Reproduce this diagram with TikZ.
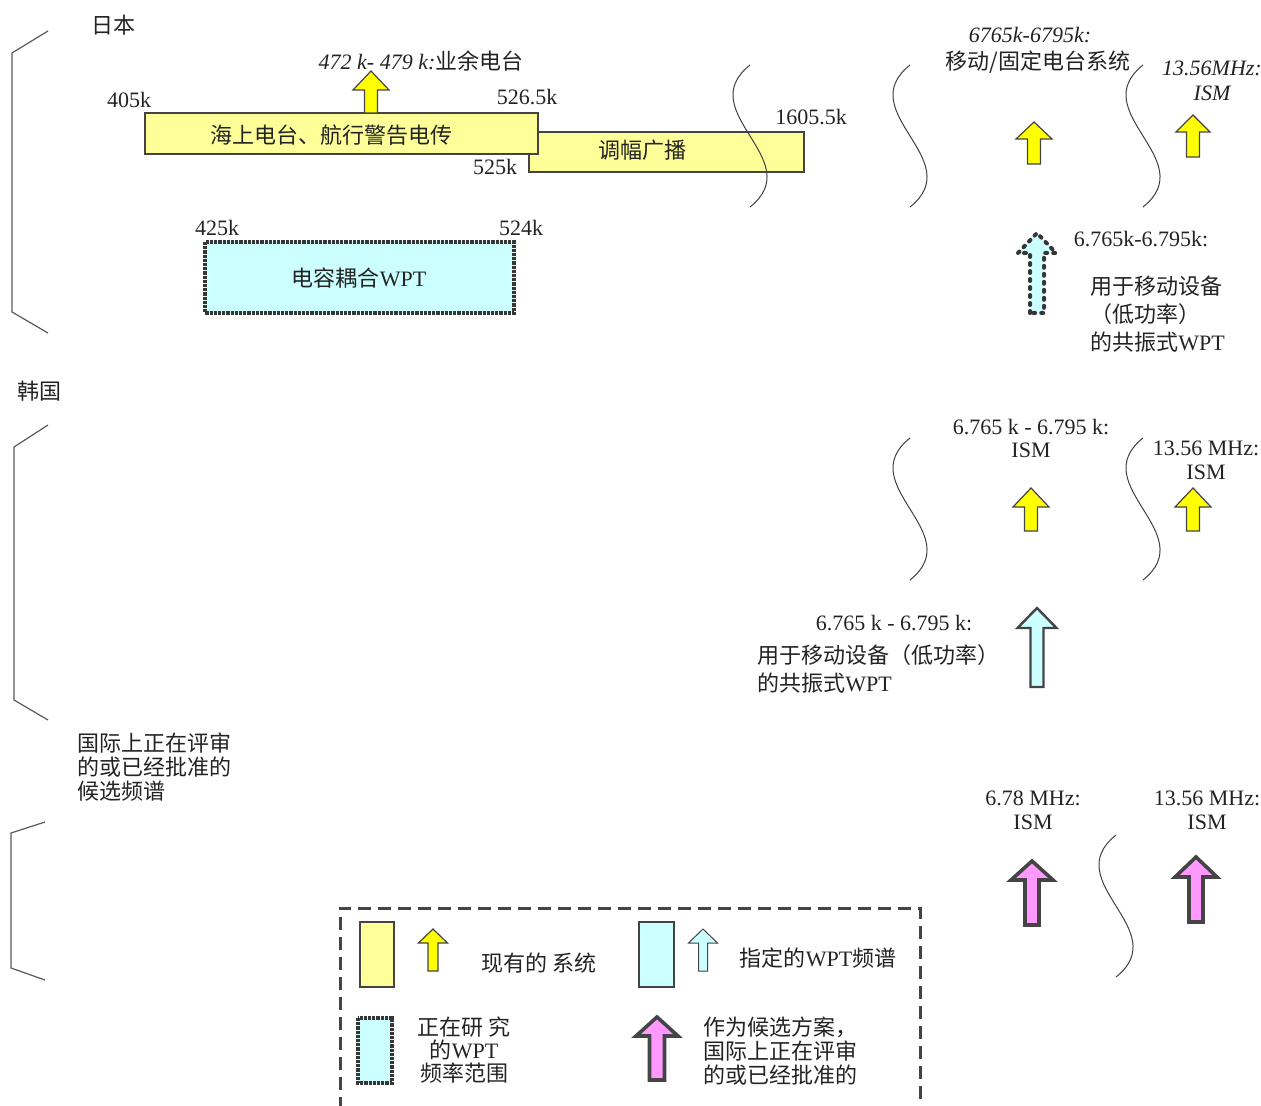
\documentclass[tikz,border=0pt]{standalone}
\usepackage{fontspec}
\setmainfont{Liberation Serif}
\newfontfamily\cjk{Noto Sans CJK SC}
\usetikzlibrary{positioning}
\definecolor{bandyellow}{RGB}{255,255,153}
\definecolor{arrowyellow}{RGB}{255,255,0}
\definecolor{wptcyan}{RGB}{204,255,255}
\definecolor{candpink}{RGB}{255,153,255}
\definecolor{edgegray}{RGB}{68,68,68}
\definecolor{txtgray}{RGB}{35,35,35}
\tikzset{
    lbl/.style={inner sep=0pt, text=txtgray, font=\fontsize{11}{13}\selectfont},
    zh/.style={lbl, font=\fontsize{11}{13}\selectfont\cjk},
    band/.style={draw=edgegray, line width=1pt, fill=bandyellow},
    studyband/.style={draw=edgegray!80!black, line width=1.6pt, dash pattern=on 1.6pt off 0.5pt, fill=wptcyan},
    existarrow/.style={draw=edgegray, line width=0.6pt, fill=arrowyellow},
    wptarrow/.style={draw=edgegray, line width=1.2pt, fill=wptcyan},
    studyarrow/.style={wptarrow, draw=edgegray!80!black, line width=2pt, line cap=round, dash pattern=on 1pt off 3pt},
    candarrow/.style={draw=edgegray, line width=1.8pt, fill=candpink},
    wave/.style={draw=black!75, line width=0.5pt},
    brace/.style={draw=black!65, line width=0.6pt},
    legendframe/.style={draw=edgegray, line width=1.5pt, dash pattern=on 6.5pt off 3.5pt}
}
% fat upward arrow: style, x, tip, head base, bottom, head half width, shaft half width
\newcommand{\freqarrow}[7]{\draw[#1] (#2-#7,#5) -- (#2-#7,#4) -- (#2-#6,#4) -- (#2,#3) -- (#2+#6,#4) -- (#2+#7,#4) -- (#2+#7,#5) -- cycle;}
% break mark on the frequency axis
\newcommand{\breakwave}[2]{\draw[wave] (#1,#2) .. controls (#1-59,#2+47) and (#1+59,#2+95) .. (#1,#2+142);}

\begin{document}
\begin{tikzpicture}[x=0.5pt, y=-0.5pt]
\useasboundingbox (0,0) rectangle (1261,1106);

% Japan
\node[zh] (japan) at (113,25) {日本};
\draw[brace] (48,31) -- (12,53) -- (12,312) -- (48,333);
\draw[band] (529,132) rectangle (804,172);
\node[zh] (amband) at (642,150) {调幅广播};
\draw[band] (145,113) rectangle (538,154);
\node[zh] (maritime) at (331,135) {海上电台、航行警告电传};
\freqarrow{existarrow}{371}{71}{90}{113}{18}{6.5}
\node[lbl] (amateur) at (421,61) {\itshape 472 k- 479 k:{\cjk 业余电台}};
\node[lbl] (f405) at (129,100) {405k};
\node[lbl] (f5265) at (527,97) {526.5k};
\node[lbl] (f525) at (495,167) {525k};
\node[lbl] (f16055) at (811,117) {1605.5k};
\draw[studyband] (205,242) rectangle (514,313);
\node[lbl] (capwpt) at (359,278) {{\cjk 电容耦合}WPT};
\node[lbl] (f425) at (217,228) {425k};
\node[lbl] (f524) at (521,228) {524k};
\breakwave{750}{65}
\breakwave{910}{65}
\breakwave{1143}{65}
\node[lbl] (jpfix) at (1030,35) {\itshape 6765k-6795k:};
\node[zh] (jpfixtxt) at (1038,62) {移动/固定电台系统};
\node[lbl, align=center, font=\fontsize{11}{12.5}\selectfont\itshape] (jpism) at (1212,81) {13.56MHz:\\ISM};
\freqarrow{existarrow}{1034}{122}{139}{164}{18}{6.5}
\freqarrow{existarrow}{1193}{115}{132}{157}{17}{6.5}
\freqarrow{studyarrow}{1037}{233}{253}{313}{19}{7}
\node[lbl] (jpwpt) at (1141,239) {6.765k-6.795k:};
\node[zh, align=left, anchor=west, font=\fontsize{11}{14}\selectfont\cjk] (jpwpttxt) at (1090,314) {用于移动设备\\（低功率）\\的共振式{\rmfamily WPT}};

% Korea
\node[zh] (korea) at (40,391) {韩国};
\draw[brace] (48,425) -- (14,447) -- (14,700) -- (48,720);
\breakwave{910}{438}
\breakwave{1143}{438}
\node[lbl, align=center, font=\fontsize{11}{11.5}\selectfont] (krism) at (1031,438) {6.765 k - 6.795 k:\\ISM};
\node[lbl, align=center, font=\fontsize{11}{12}\selectfont] (krism2) at (1206,460) {13.56 MHz:\\ISM};
\freqarrow{existarrow}{1031}{488}{507}{531}{18}{6.5}
\freqarrow{existarrow}{1193}{488}{507}{531}{18}{6.5}
\freqarrow{wptarrow}{1037}{608}{628}{687}{19.5}{6.5}
\node[lbl] (krwpt) at (894,623) {6.765 k - 6.795 k:};
\node[zh, align=left, anchor=west, font=\fontsize{11}{14}\selectfont\cjk] (krwpttxt) at (757,669) {用于移动设备（低功率）\\的共振式{\rmfamily WPT}};

% international candidates
\node[zh, align=left, anchor=west, font=\fontsize{11}{12.2}\selectfont\cjk] (intl) at (77,767) {国际上正在评审\\的或已经批准的\\候选频谱};
\draw[brace] (45,822) -- (11,833) -- (11,968) -- (45,980);
\node[lbl, align=center, font=\fontsize{11}{12}\selectfont] (intlism) at (1033,810) {6.78 MHz:\\ISM};
\node[lbl, align=center, font=\fontsize{11}{12}\selectfont] (intlism2) at (1207,810) {13.56 MHz:\\ISM};
\freqarrow{candarrow}{1032}{861}{880}{925}{21}{7}
\freqarrow{candarrow}{1196}{857}{877}{922}{21}{7}
\breakwave{1116}{835}

% legend
\draw[legendframe] (340,1110) -- (340,908) -- (920,908) -- (920,1110);
\draw[band, line width=0.6pt] (360,922) rectangle (394,987);
\freqarrow{existarrow}{433}{929}{943}{971}{14.5}{5}
\node[zh] (legexist) at (539,963) {现有的 系统};
\draw[draw=edgegray, line width=0.6pt, fill=wptcyan] (639,922) rectangle (674,987);
\freqarrow{draw=edgegray, line width=0.5pt, fill=wptcyan}{703}{929}{943}{971}{14.5}{4.5}
\node[lbl] (legwpt) at (818,958) {{\cjk 指定的}WPT{\cjk 频谱}};
\draw[studyband] (358,1018) rectangle (392,1083);
\node[zh, align=center, font=\fontsize{11}{11.5}\selectfont\cjk] (legstudy) at (464,1050) {正在研 究\\的{\rmfamily WPT}\\频率范围};
\freqarrow{candarrow}{657}{1017}{1036}{1080}{21}{7.5}
\node[zh, align=left, anchor=west, font=\fontsize{11}{12}\selectfont\cjk] (legcand) at (703,1051) {作为候选方案，\\国际上正在评审\\的或已经批准的};
\end{tikzpicture}
\end{document}
